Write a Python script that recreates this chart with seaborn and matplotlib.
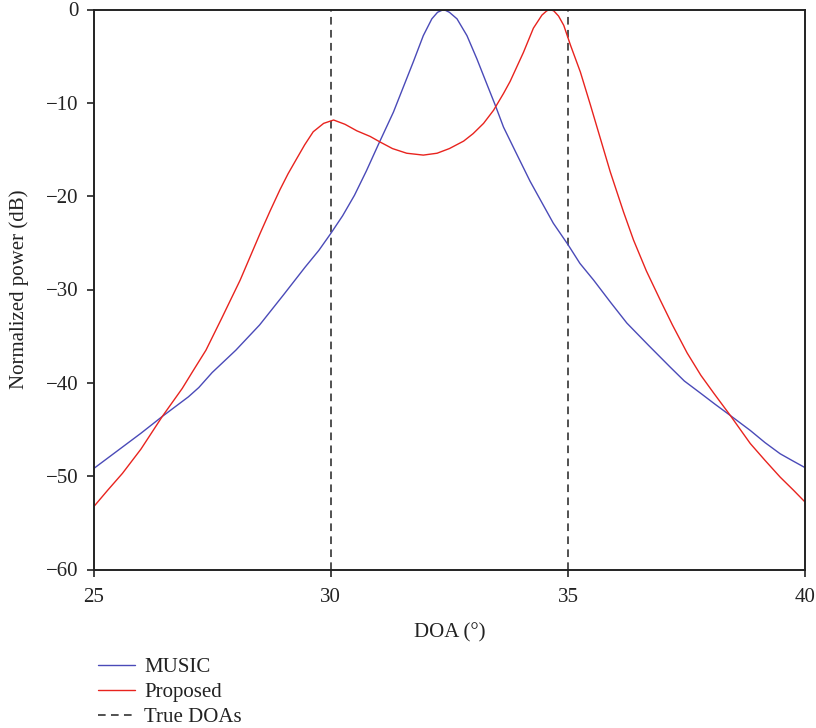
import matplotlib
matplotlib.use("Agg")
import matplotlib.pyplot as plt
import seaborn as sns
import pandas as pd
from matplotlib.lines import Line2D

# ---- data ----
music_doa = [25.0, 25.5, 26.0, 26.45, 27.0, 27.22, 27.5, 28.0, 28.5, 29.0, 29.46, 29.75,
             30.0, 30.25, 30.5, 30.75, 31.0, 31.32, 31.53, 31.74, 31.95, 32.13, 32.25, 32.38, 32.5,
             32.66, 32.87, 33.08, 33.29, 33.47, 33.64, 33.89, 34.2, 34.45, 34.69, 35.0, 35.25, 35.54,
             35.9, 36.24, 36.7, 37.15, 37.45, 37.79, 38.1, 38.42, 38.84, 39.15, 39.47, 39.75, 40.0]
music_db = [-49.2, -47.3, -45.4, -43.6, -41.5, -40.5, -38.9, -36.5, -33.8, -30.6, -27.6, -25.8,
            -24.0, -22.1, -19.9, -17.3, -14.5, -11.0, -8.3, -5.6, -2.8, -1.0, -0.3, 0.0, -0.3,
            -1.0, -2.8, -5.3, -8.0, -10.3, -12.6, -15.2, -18.4, -20.7, -22.9, -25.2, -27.2, -29.0,
            -31.4, -33.6, -36.0, -38.3, -39.8, -41.1, -42.3, -43.5, -45.1, -46.4, -47.6, -48.4, -49.1]

prop_doa = [25.0, 25.3, 25.61, 26.0, 26.45, 26.87, 27.1, 27.37, 27.70, 27.89, 28.09, 28.3, 28.51, 28.72,
            28.93, 29.1, 29.28, 29.45, 29.63, 29.85, 30.06, 30.3, 30.55, 30.83, 31.04, 31.3, 31.6,
            31.95, 32.24, 32.5, 32.80, 33.0, 33.22, 33.43, 33.64, 33.78, 34.06, 34.27, 34.45, 34.55,
            34.62, 34.7, 34.8, 34.91, 35.05, 35.26, 35.47, 35.68, 35.89, 36.17, 36.38, 36.65, 36.94,
            37.2, 37.51, 37.8, 38.07, 38.42, 38.84, 39.15, 39.47, 39.75, 40.0]
prop_db = [-53.3, -51.5, -49.7, -47.1, -43.6, -40.6, -38.7, -36.5, -33.1, -31.1, -29.0, -26.5, -24.0, -21.6,
           -19.3, -17.6, -16.0, -14.5, -13.1, -12.2, -11.84, -12.3, -13.0, -13.6, -14.2, -14.9, -15.4,
           -15.6, -15.4, -14.9, -14.1, -13.3, -12.2, -10.8, -9.0, -7.7, -4.6, -2.0, -0.6, -0.15,
           0.0, -0.15, -0.7, -1.7, -3.8, -6.7, -10.2, -13.8, -17.4, -21.7, -24.7, -28.0, -31.1,
           -33.8, -36.8, -39.2, -41.1, -43.5, -46.5, -48.3, -50.1, -51.5, -52.8]

true_doas = [30, 35]
series_names = ["MUSIC", "Proposed"]
series_colors = ["#4a4ab8", "#e8231e"]
x_ticks = [25, 30, 35, 40]
y_ticks = [0, -10, -20, -30, -40, -50, -60]

df = pd.concat([
    pd.DataFrame({"DOA": music_doa, "power": music_db, "method": series_names[0]}),
    pd.DataFrame({"DOA": prop_doa, "power": prop_db, "method": series_names[1]}),
])

sns.set_style("ticks")
plt.rcParams["font.family"] = ["Liberation Serif", "DejaVu Serif"]

fig = plt.figure(figsize=(8.16, 7.28), dpi=100)
ax = fig.add_axes([93.5 / 816, 1 - 569.5 / 728, (805.3 - 93.5) / 816, (569.5 - 9.5) / 728])

sns.lineplot(data=df, x="DOA", y="power", hue="method", palette=dict(zip(series_names, series_colors)),
             linewidth=1.0, ax=ax, legend=False, sort=False, estimator=None)

for d in true_doas:
    ax.axvline(d, color="#222222", linestyle=(0, (5, 3.5)), linewidth=1.1, zorder=1)

ax.set_xlim(25, 40)
ax.set_ylim(-60, 0)
ax.set_xticks(x_ticks)
ax.set_yticks(y_ticks)
ax.set_yticklabels(["0" if v == 0 else "\u2212" + str(-v) for v in y_ticks])
ax.tick_params(axis="both", direction="out", length=5, width=1.2, labelsize=15, colors="#222222",
               labelcolor="#222222")
ax.tick_params(axis="x", pad=8)
ax.tick_params(axis="y", pad=6)
for s in ax.spines.values():
    s.set_visible(True)
    s.set_linewidth(1.4)
    s.set_color("#222222")

ax.set_xlabel("DOA (\u00b0)", fontsize=15, labelpad=12, color="#222222")
ax.set_ylabel("Normalized power (dB)", fontsize=15, labelpad=12, color="#222222")

handles = [
    Line2D([], [], color=series_colors[0], linewidth=1.0),
    Line2D([], [], color=series_colors[1], linewidth=1.0),
    Line2D([], [], color="#222222", linestyle=(0, (5, 3.5)), linewidth=1.1),
]
labels = series_names + ["True DOAs"]
fig.legend(handles, labels, loc="lower left", bbox_to_anchor=(88 / 816, -0.013), frameon=False,
           fontsize=15, handlelength=1.75, handletextpad=0.45, labelspacing=0.25, borderaxespad=0.1,
           labelcolor="#222222")

fig.savefig("out.png", dpi=100)
